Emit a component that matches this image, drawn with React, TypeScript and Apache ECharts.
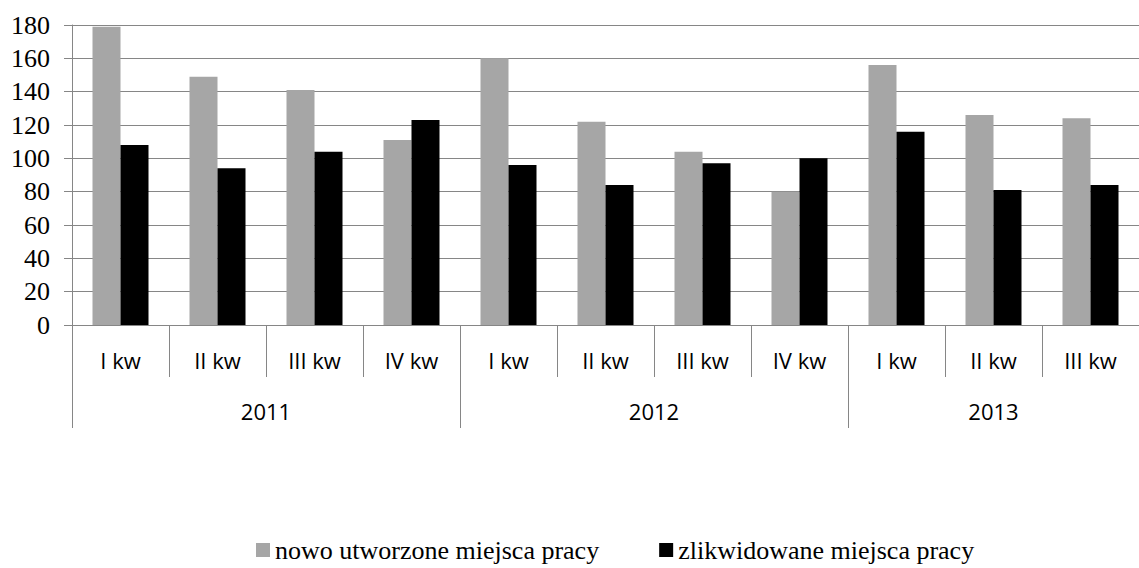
import React, { useEffect, useRef } from "react";
import * as echarts from "echarts";

const quarters = ["I kw", "II kw", "III kw", "IV kw", "I kw", "II kw", "III kw", "IV kw", "I kw", "II kw", "III kw"];
const years = ["2011", "2012", "2013"];
const quartersPerYear = [4, 4, 3];
const created = [179, 149, 141, 111, 160, 122, 104, 80, 156, 126, 124];
const removed = [108, 94, 104, 123, 96, 84, 97, 100, 116, 81, 84];
const seriesNames = ["nowo utworzone miejsca pracy", "zlikwidowane miejsca pracy"];
const yMin = 0;
const yMax = 180;
const yStep = 20;

export default function App() {
  const ref = useRef<HTMLDivElement>(null);
  useEffect(() => {
    if (!ref.current) return;
    const chart = echarts.init(ref.current, null, { renderer: "svg" });

    const boundaries: number[] = [0];
    const centers: number[] = [];
    let acc = 0;
    quartersPerYear.forEach((n) => {
      centers.push(acc + n / 2);
      acc += n;
      boundaries.push(acc);
    });

    const gridColor = "#868686";
    const serif = "'Liberation Serif', 'Times New Roman', serif";
    const sans = "'Open Sans', sans-serif";
    chart.setOption({
      animation: false,
      grid: { left: 72, top: 25, width: 1075, height: 300, containLabel: false },
      legend: {
        left: 251,
        top: 532,
        itemWidth: 14,
        itemHeight: 14,
        itemGap: 60,
        icon: "rect",
        textStyle: { fontFamily: serif, fontSize: 26, color: "#000" },
        data: seriesNames,
      },
      xAxis: [
        {
          type: "category",
          data: quarters,
          position: "bottom",
          axisLine: { show: true, lineStyle: { color: gridColor, width: 1 } },
          axisTick: { show: true, interval: 0, length: 52, lineStyle: { color: gridColor } },
          axisLabel: {
            interval: 0,
            margin: 24,
            fontFamily: sans,
            fontSize: 22,
            lineHeight: 22,
            color: "#000",
          },
          splitLine: { show: false },
        },
        {
          type: "value",
          min: 0,
          max: acc,
          position: "bottom",
          axisLine: { show: false },
          splitLine: { show: false },
          axisTick: {
            show: true,
            length: 103,
            customValues: boundaries,
            lineStyle: { color: gridColor },
          },
          axisLabel: {
            show: true,
            customValues: centers,
            margin: 75,
            fontFamily: sans,
            fontSize: 22,
            lineHeight: 22,
            color: "#000",
            formatter: (v: number) => {
              const i = centers.findIndex((c) => Math.abs(c - v) < 1e-6);
              return i >= 0 ? years[i] : "";
            },
          },
        },
      ],
      yAxis: {
        type: "value",
        min: yMin,
        max: yMax,
        interval: yStep,
        axisLine: { show: true, lineStyle: { color: gridColor } },
        axisTick: { show: true, length: 8, lineStyle: { color: gridColor } },
        axisLabel: {
          margin: 22,
          fontFamily: serif,
          fontSize: 26,
          color: "#000",
        },
        splitLine: { show: true, lineStyle: { color: gridColor, width: 1 } },
      },
      series: [
        {
          name: seriesNames[0],
          type: "bar",
          xAxisIndex: 0,
          data: created,
          barWidth: 28,
          barGap: "0%",
          itemStyle: { color: "#a6a6a6" },
        },
        {
          name: seriesNames[1],
          type: "bar",
          xAxisIndex: 0,
          data: removed,
          barWidth: 28,
          barGap: "0%",
          itemStyle: { color: "#000000" },
        },
      ],
    });
    return () => chart.dispose();
  }, []);
  return (
    <div
      ref={ref}
      style={{ position: "fixed", left: 0, top: 0, width: 1139, height: 568, background: "#fff" }}
    />
  );
}
